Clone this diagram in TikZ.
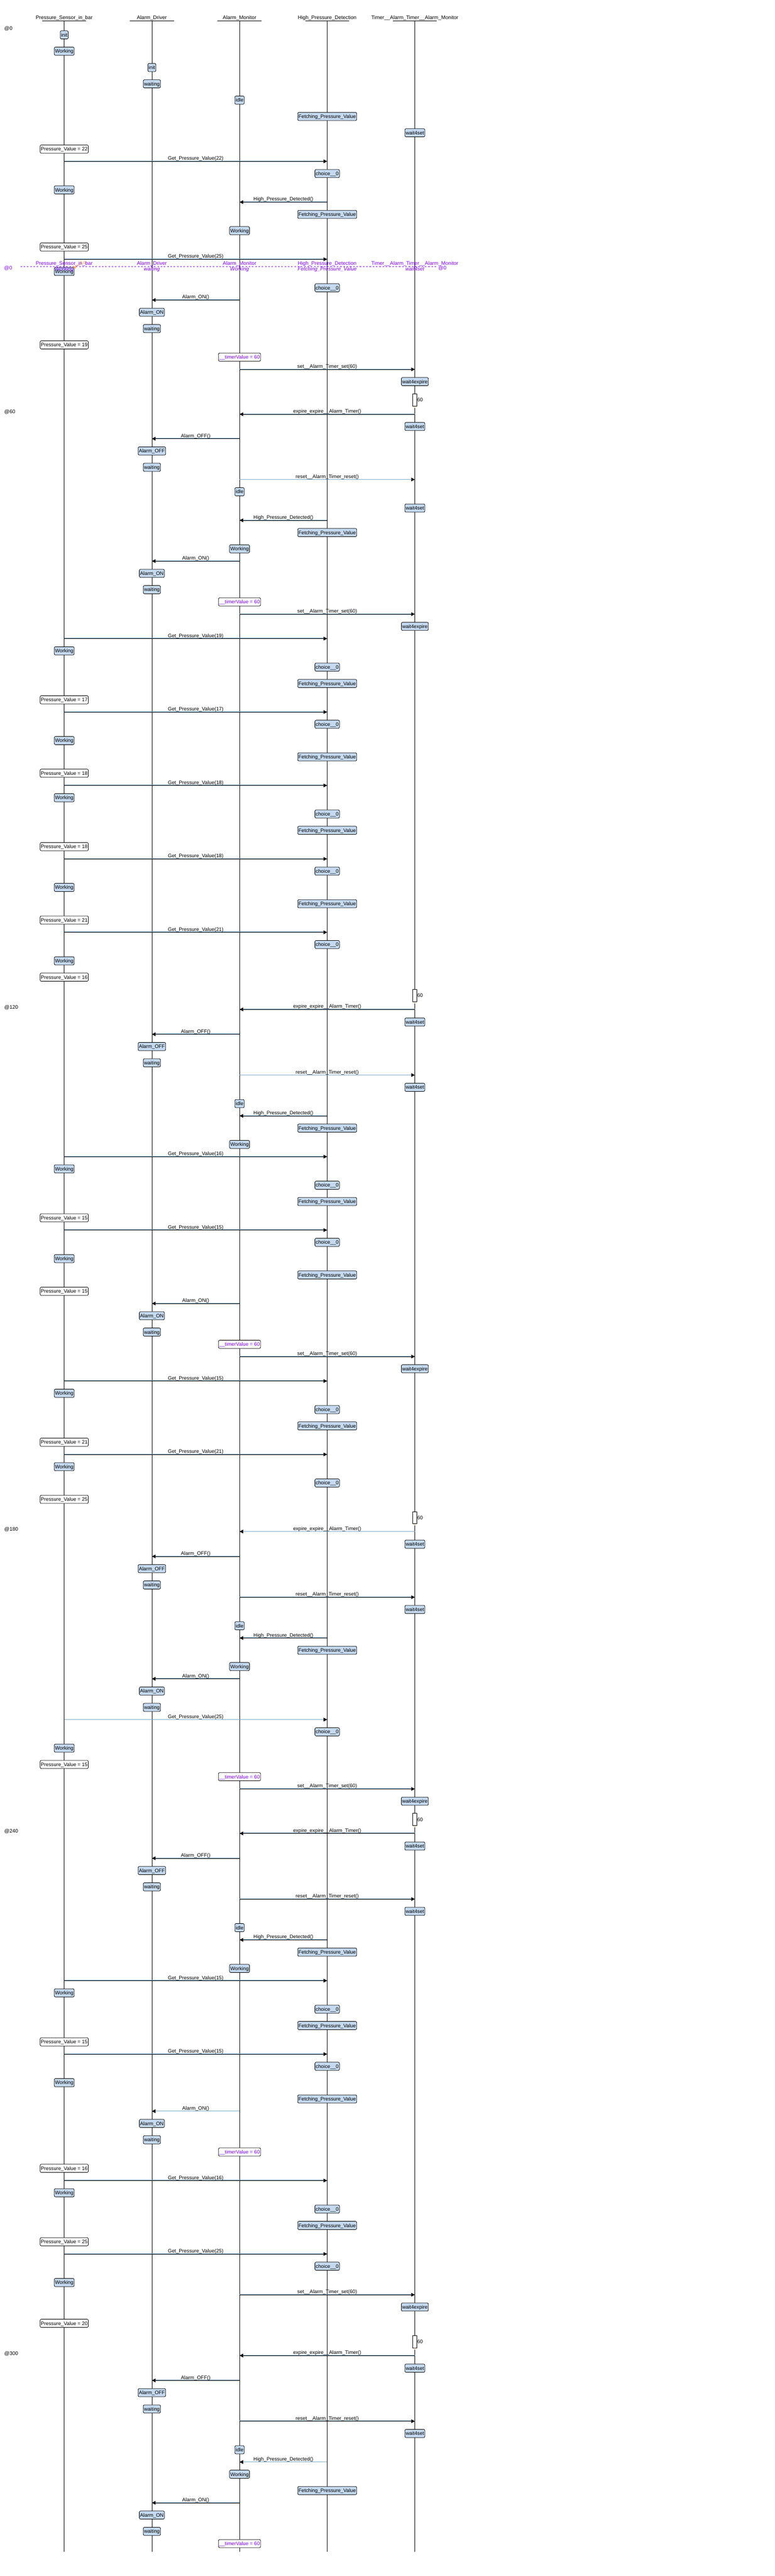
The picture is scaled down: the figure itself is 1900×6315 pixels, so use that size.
\documentclass[tikz,border=0pt]{standalone}
\usepackage{fontspec}
\setmainfont{Liberation Sans}
\usetikzlibrary{arrows.meta}
\definecolor{stfill}{RGB}{197,218,241}
\definecolor{purp}{RGB}{128,0,255}
\definecolor{msgblue}{RGB}{125,170,200}
\definecolor{orng}{RGB}{255,170,80}
\newcounter{bn}\newcounter{mn}
\newcommand\hdfont{\fontsize{12.6pt}{14pt}\selectfont}
\newcommand\bxfont{\fontsize{12.3pt}{14pt}\selectfont}
\newcommand\mgfont{\fontsize{12.4pt}{14pt}\selectfont}
\def\xPS{157.5}\def\xAD{372.5}\def\xAM{587.5}\def\xHP{802.5}\def\xT{1017.5}
\newcommand\stbox[4]{\stepcounter{bn}\node[#1] (b\thebn) at (#2,#3) {#4};}
\newcommand\smsg[4]{\stepcounter{mn}%
 \coordinate (m\themn a) at (#1,#3);\coordinate (m\themn b) at (#2,#3);%
 \draw[msgk] (m\themn a) -- (m\themn b);%
 \draw[msgbl] ([yshift=1pt]m\themn a) -- ([yshift=1pt]m\themn b);%
 \node[msgl] (m\themn l) at ({(#1+#2)/2},{#3-3}) {#4};}
\newcommand\trect[4]{% y center, name, time label y, time label
 \node[trbox] (#2) at (\xT,#1) {};%
 \node[tlab,anchor=west] (#2l) at (1023,#1) {60};%
 \draw[orng,line width=1pt] (#2.south) -- ++(0,4);%
 \node[tlab,anchor=west] (#2t) at (10.5,#3) {#4};}
\newcommand\GPV[2]{\smsg{\xPS}{\xHP}{#1}{Get\_Pressure\_Value(#2)}}
\newcommand\PV[2]{\stbox{pv}{\xPS}{#1}{Pressure\_Value = #2}}
\newcommand\WPS[1]{\stbox{st}{\xPS}{#1}{Working}}
\newcommand\CH[1]{\stbox{st}{\xHP}{#1}{choice\_\_0}}
\newcommand\FPV[1]{\stbox{st}{\xHP}{#1}{Fetching\_Pressure\_Value}}
\newcommand\HPDm[1]{\smsg{\xHP}{\xAM}{#1}{High\_Pressure\_Detected()}}
\newcommand\AONm[1]{\smsg{\xAM}{\xAD}{#1}{Alarm\_ON()}}
\newcommand\AOFFm[1]{\smsg{\xAM}{\xAD}{#1}{Alarm\_OFF()}}
\newcommand\SETm[1]{\smsg{\xAM}{\xT}{#1}{set\_\_Alarm\_Timer\_set(60)}}
\newcommand\RSTm[1]{\smsg{\xAM}{\xT}{#1}{reset\_\_Alarm\_Timer\_reset()}}
\newcommand\EXPm[1]{\smsg{\xT}{\xAM}{#1}{expire\_expire\_\_Alarm\_Timer()}}
\newcommand\AON[1]{\stbox{st}{\xAD}{#1}{Alarm\_ON}}
\newcommand\AOFF[1]{\stbox{st}{\xAD}{#1}{Alarm\_OFF}}
\newcommand\WAIT[1]{\stbox{st}{\xAD}{#1}{waiting}}
\newcommand\IDLE[1]{\stbox{st}{\xAM}{#1}{idle}}
\newcommand\WAM[1]{\stbox{st}{\xAM}{#1}{Working}}
\newcommand\TV[1]{\stbox{tv}{\xAM}{#1}{\_\_timerValue = 60}}
\newcommand\WSET[1]{\stbox{st}{\xT}{#1}{wait4set}}
\newcommand\WEXP[1]{\stbox{st}{\xT}{#1}{wait4expire}}
\tikzset{
 st/.style={draw=black, line width=1pt, fill=stfill, rounded corners=3pt, font=\bxfont, inner xsep=2pt, inner ysep=0pt, minimum height=20pt, text height=8.8pt, text depth=0pt},
 pv/.style={st, fill=white},
 tv/.style={st, fill=white, text=purp},
 msgk/.style={line width=1pt, draw=black, -{Triangle[length=9pt,width=9pt]}},
 msgbl/.style={line width=1pt, draw=msgblue, shorten >=9pt},
 msgl/.style={font=\mgfont, anchor=base, inner sep=0pt},
 hd/.style={font=\hdfont, anchor=base, inner sep=0pt},
 life/.style={line width=1pt, draw=black},
 uline/.style={line width=1pt, draw=black},
 trbox/.style={draw=black, fill=white, line width=1pt, minimum width=10pt, minimum height=30pt, inner sep=0pt},
 tlab/.style={font=\hdfont, inner sep=0pt, text height=8.8pt, text depth=0pt},
 prow/.style={font=\hdfont, text=purp, anchor=base, inner sep=0pt},
 pstate/.style={font=\hdfont\itshape, text=purp, anchor=base, inner sep=0pt},
}
\begin{document}
\begin{tikzpicture}[x=1pt,y=-1pt]
\useasboundingbox (0,0) rectangle (1900,6315);
\fill[white] (0,0) rectangle (1900,6315);
% lifelines and headers
\foreach \nm/\xx/\lab in {PS/157.5/Pressure\_Sensor\_in\_bar, AD/372.5/Alarm\_Driver, AM/587.5/Alarm\_Monitor, HP/802.5/High\_Pressure\_Detection, T/1017.5/Timer\_\_Alarm\_Timer\_\_Alarm\_Monitor}{
 \node[hd] (h\nm) at (\xx,47.7) {\lab};
 \coordinate (t\nm) at (\xx,50.5);
 \coordinate (e\nm) at (\xx,6256);
 \draw[life] (t\nm) -- (e\nm);
 \draw[uline] ([xshift=-54pt]t\nm) -- ([xshift=54pt]t\nm);
}
\node[tlab,anchor=west] (at0) at (10.5,69.7) {@0};
% events
\stbox{st}{\xPS}{85.5}{init}
\WPS{125.5}
\stbox{st}{\xAD}{165.5}{init}
\WAIT{205.5}
\IDLE{245.5}
\FPV{285.5}
\WSET{325.5}
\PV{365.5}{22}
\GPV{395.5}{22}
\CH{425.5}
\WPS{465.5}
\HPDm{495.5}
\FPV{525.5}
\WAM{565.5}
\PV{605.5}{25}
\GPV{635.5}{25}
\WPS{665.5}
\CH{705.5}
\AONm{735.5}
\AON{765.5}
\WAIT{805.5}
\PV{845.5}{19}
\TV{875.5}
\SETm{905.5}
\WEXP{935.5}
\trect{980.5}{r1}{1009}{@60}
\EXPm{1015.5}
\WSET{1045.5}
\AOFFm{1075.5}
\AOFF{1105.5}
\WAIT{1145.5}
\RSTm{1175.5}
\IDLE{1205.5}
\WSET{1245.5}
\HPDm{1275.5}
\FPV{1305.5}
\WAM{1345.5}
\AONm{1375.5}
\AON{1405.5}
\WAIT{1445.5}
\TV{1475.5}
\SETm{1505.5}
\WEXP{1535.5}
\GPV{1565.5}{19}
\WPS{1595.5}
\CH{1635.5}
\FPV{1675.5}
\PV{1715.5}{17}
\GPV{1745.5}{17}
\CH{1775.5}
\WPS{1815.5}
\FPV{1855.5}
\PV{1895.5}{18}
\GPV{1925.5}{18}
\WPS{1955.5}
\CH{1995.5}
\FPV{2035.5}
\PV{2075.5}{18}
\GPV{2105.5}{18}
\CH{2135.5}
\WPS{2175.5}
\FPV{2215.5}
\PV{2255.5}{21}
\GPV{2285.5}{21}
\CH{2315.5}
\WPS{2355.5}
\PV{2395.5}{16}
\trect{2440.5}{r2}{2469}{@120}
\EXPm{2474.5}
\WSET{2505.5}
\AOFFm{2535.5}
\AOFF{2565.5}
\WAIT{2605.5}
\RSTm{2635.5}
\WSET{2665.5}
\IDLE{2705.5}
\HPDm{2735.5}
\FPV{2765.5}
\WAM{2805.5}
\GPV{2835.5}{16}
\WPS{2865.5}
\CH{2905.5}
\FPV{2945.5}
\PV{2985.5}{15}
\GPV{3015.5}{15}
\CH{3045.5}
\WPS{3085.5}
\FPV{3125.5}
\PV{3165.5}{15}
\AONm{3195.5}
\AON{3225.5}
\WAIT{3265.5}
\TV{3295.5}
\SETm{3325.5}
\WEXP{3355.5}
\GPV{3385.5}{15}
\WPS{3415.5}
\CH{3455.5}
\FPV{3495.5}
\PV{3535.5}{21}
\GPV{3565.5}{21}
\WPS{3595.5}
\CH{3635.5}
\PV{3675.5}{25}
\trect{3720.5}{r3}{3749}{@180}
\EXPm{3754.5}
\WSET{3785.5}
\AOFFm{3815.5}
\AOFF{3845.5}
\WAIT{3885.5}
\RSTm{3915.5}
\WSET{3945.5}
\IDLE{3985.5}
\HPDm{4015.5}
\FPV{4045.5}
\WAM{4085.5}
\AONm{4115.5}
\AON{4145.5}
\WAIT{4185.5}
\GPV{4215.5}{25}
\CH{4245.5}
\WPS{4285.5}
\PV{4325.5}{15}
\TV{4355.5}
\SETm{4385.5}
\WEXP{4415.5}
\trect{4460.5}{r4}{4489}{@240}
\EXPm{4494.5}
\WSET{4525.5}
\AOFFm{4555.5}
\AOFF{4585.5}
\WAIT{4625.5}
\RSTm{4655.5}
\WSET{4685.5}
\IDLE{4725.5}
\HPDm{4755.5}
\FPV{4785.5}
\WAM{4825.5}
\GPV{4855.5}{15}
\WPS{4885.5}
\CH{4925.5}
\FPV{4965.5}
\PV{5005.5}{15}
\GPV{5035.5}{15}
\CH{5065.5}
\WPS{5105.5}
\FPV{5145.5}
\AONm{5175.5}
\AON{5205.5}
\WAIT{5245.5}
\TV{5275.5}
\PV{5315.5}{16}
\GPV{5345.5}{16}
\WPS{5375.5}
\CH{5415.5}
\FPV{5455.5}
\PV{5495.5}{25}
\GPV{5525.5}{25}
\CH{5555.5}
\WPS{5595.5}
\SETm{5625.5}
\WEXP{5655.5}
\PV{5695.5}{20}
\trect{5740.5}{r5}{5769}{@300}
\EXPm{5774.5}
\WSET{5805.5}
\AOFFm{5835.5}
\AOFF{5865.5}
\WAIT{5905.5}
\RSTm{5935.5}
\WSET{5965.5}
\IDLE{6005.5}
\HPDm{6035.5}
\WAM{6065.5}
\FPV{6105.5}
\AONm{6135.5}
\AON{6165.5}
\WAIT{6205.5}
\TV{6235.5}
% purple state row
\coordinate (pl) at (50,653.5);
\coordinate (pr) at (1073,653.5);
\draw[purp, line width=1pt, dash pattern=on 4pt off 4pt] (pl) -- (pr);
\foreach \xx in {372.5,587.5,802.5,1017.5}{
 \fill[purp] (\xx-2.5,652.5) -- (\xx+2.5,652.5) -- (\xx,656) -- cycle;
}
\node[tlab,text=purp] (pat0) at (20,657) {@0};
\node[tlab,text=purp] (pat1) at (1085,657) {@0};
\node[prow] (pn1) at (\xPS,650) {Pressure\_Sensor\_in\_bar};
\node[prow] (pn2) at (\xAD,650) {Alarm\_Driver};
\node[prow] (pn3) at (\xAM,650) {Alarm\_Monitor};
\node[prow] (pn4) at (\xHP,650) {High\_Pressure\_Detection};
\node[prow] (pn5) at (\xT,650) {Timer\_\_Alarm\_Timer\_\_Alarm\_Monitor};
\node[pstate] (ps1) at (\xPS,663.5) {Working};
\node[pstate] (ps2) at (\xAD,663.5) {waiting};
\node[pstate] (ps3) at (\xAM,663.5) {Working};
\node[pstate] (ps4) at (\xHP,663.5) {Fetching\_Pressure\_Value};
\node[pstate] (ps5) at (\xT,663.5) {wait4set};
% orange marker
\fill[orng] (180,653.3) rectangle (185.3,657.7);
\draw[orng, line width=1pt] (185,654) -- (190,649.5) -- (196,649.5);
\node[prow, text=orng] (o14) at (202.5,649) {14};
\end{tikzpicture}
\end{document}
